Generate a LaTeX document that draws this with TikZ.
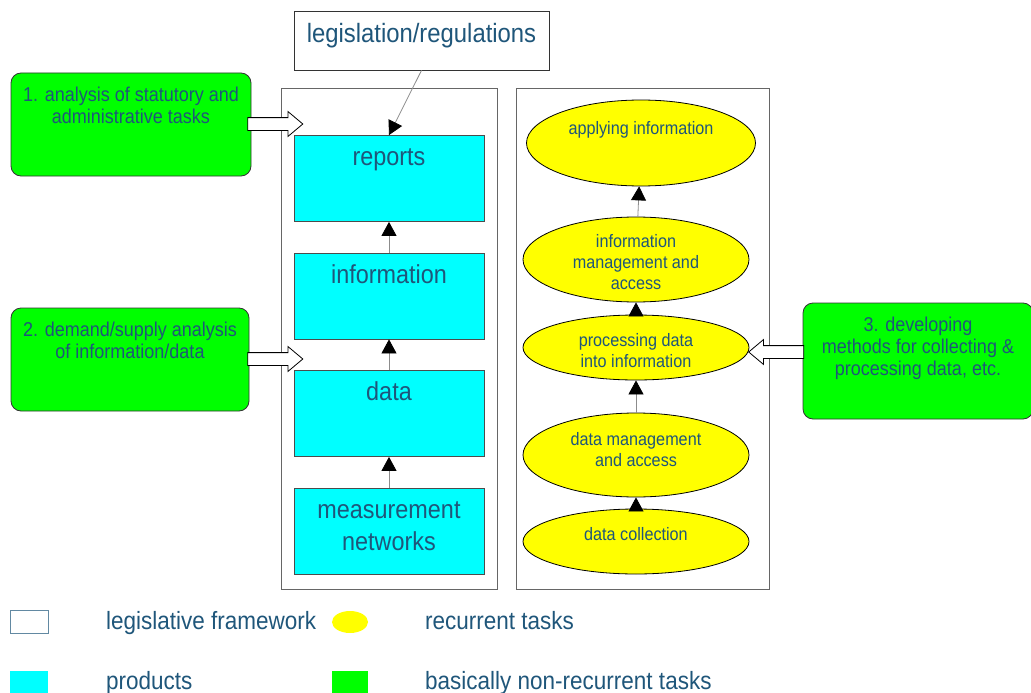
\documentclass[tikz,border=0pt]{standalone}
\usepackage{fontspec}
\setmainfont[FakeStretch=0.9]{Liberation Sans}
\usetikzlibrary{arrows.meta,shapes.geometric,shapes.arrows}
\definecolor{txtblue}{RGB}{31,86,122}
\definecolor{taskgreen}{RGB}{0,255,0}
\definecolor{prodcyan}{RGB}{0,255,255}
\definecolor{taskyellow}{RGB}{255,255,0}

\begin{document}
\begin{tikzpicture}[x=1pt,y=-1pt,node distance=117.5pt,
    frame/.style={rectangle,draw=black!60,line width=1pt,inner sep=0pt},
    legal/.style={rectangle,draw=black!80,fill=white,line width=0.8pt,inner sep=0pt,
      minimum width=255pt,minimum height=59pt,text height=32pt,text depth=27pt,
      font=\fontsize{26.5}{32}\selectfont,text=txtblue},
    product/.style={rectangle,draw=black!70,fill=prodcyan,line width=0.8pt,inner sep=0pt,
      minimum width=190pt,minimum height=86pt,text height=30pt,text depth=56pt,
      align=center,font=\fontsize{26}{32}\selectfont,text=txtblue},
    task/.style={ellipse,draw=black,fill=taskyellow,line width=0.8pt,inner sep=0pt,
      minimum width=226pt,align=center,
      font=\fontsize{18}{21}\selectfont,text=txtblue},
    nonrec/.style={rectangle,rounded corners=10pt,draw=black!80,fill=taskgreen,
      line width=0.8pt,inner sep=0pt,align=center,
      font=\fontsize{20}{22}\selectfont,text=txtblue},
    bigarrow/.style={single arrow,draw=black,fill=white,line width=0.8pt,
      inner xsep=0pt,inner ysep=6pt,minimum height=55pt,
      single arrow head extend=6pt,single arrow tip angle=80},
    conn/.style={draw=black!45,line width=0.8pt,
      -{Triangle[width=15pt,length=14pt,color=black]}},
    legendtext/.style={anchor=base west,inner sep=0pt,
      font=\fontsize{25}{30}\selectfont,text=txtblue}]

  \useasboundingbox (0,0) rectangle (1031,693);

  % frames round the two columns
  \node[frame,minimum width=216pt,minimum height=500pt] (frameL) at (389,339) {};
  \node[frame,minimum width=253pt,minimum height=500pt] (frameR) at (642.5,339) {};

  \node[legal] (legislation) at (421.5,40.5) {legislation/regulations};

  % products
  \node[product,text height=62pt,text depth=24pt] (networks) at (389,531) {measurement\\networks};
  \node[product] (data) [above of=networks] {data};
  \node[product] (information) [above of=data] {information};
  \node[product] (reports) [above of=information] {reports};

  % recurrent tasks
  \node[task,minimum width=229pt,minimum height=86pt,text height=4pt,text depth=22pt]
    (applying) at (641,143) {applying information};
  \node[task,minimum height=85pt,text height=60pt,text depth=0pt] (infomgmt) at (636,259.5)
    {information\\management and\\access};
  \node[task,minimum height=65pt,text height=39pt,text depth=0pt] (processing) at (636,347.5)
    {processing data\\into information};
  \node[task,minimum height=84pt,text height=24pt,text depth=2pt] (datamgmt) at (636,455)
    {data management\\and access};
  \node[task,minimum height=65pt,text height=4pt,text depth=7pt] (collection) at (636,541.5)
    {data collection};

  % non-recurrent tasks
  \node[nonrec,minimum width=240pt,minimum height=103pt,text height=50pt,text depth=53pt]
    (analysis) at (131,124.5) {1. analysis of statutory and\\administrative tasks};
  \node[nonrec,minimum width=238pt,minimum height=103pt,text height=50pt,text depth=53pt]
    (demand) at (130,359.5) {2. demand/supply analysis\\of information/data};
  \node[nonrec,minimum width=230pt,minimum height=116pt,text height=72pt,text depth=44pt]
    (methods) at (918,361) {3. developing\\methods for collecting \&\\processing data, etc.};

  \node[bigarrow] (arrowA) at (271.5,124) {};
  \node[bigarrow] (arrowB) at (271.5,359) {};
  \node[bigarrow,shape border rotate=180] (arrowC) at (780,352) {};

  \path (legislation.south) edge[conn] (reports.north)
    (networks) edge[conn] (data)
    (data) edge[conn] (information)
    (information) edge[conn] (reports)
    (collection) edge[conn] (datamgmt)
    (datamgmt) edge[conn] (processing)
    (processing) edge[conn] (infomgmt)
    (infomgmt) edge[conn] (applying);

  % legend
  \node[rectangle,draw=txtblue!70,fill=white,line width=0.8pt,minimum width=38pt,
    minimum height=23pt,inner sep=0pt] (keyframe) at (29,621.5) {};
  \node[rectangle,fill=prodcyan,minimum width=38pt,minimum height=22pt,inner sep=0pt]
    (keyproduct) at (29,682) {};
  \node[ellipse,fill=taskyellow,minimum width=36pt,minimum height=22pt,inner sep=0pt]
    (keytask) at (350,622) {};
  \node[rectangle,fill=taskgreen,minimum width=36pt,minimum height=22pt,inner sep=0pt]
    (keynonrec) at (350,682) {};
  \node[legendtext] (keyframetext) at (106,629) {legislative framework};
  \node[legendtext] (keytasktext) at (425,629) {recurrent tasks};
  \node[legendtext] (keyproducttext) at (106,689) {products};
  \node[legendtext] (keynonrectext) at (425,689) {basically non-recurrent tasks};
\end{tikzpicture}
\end{document}
